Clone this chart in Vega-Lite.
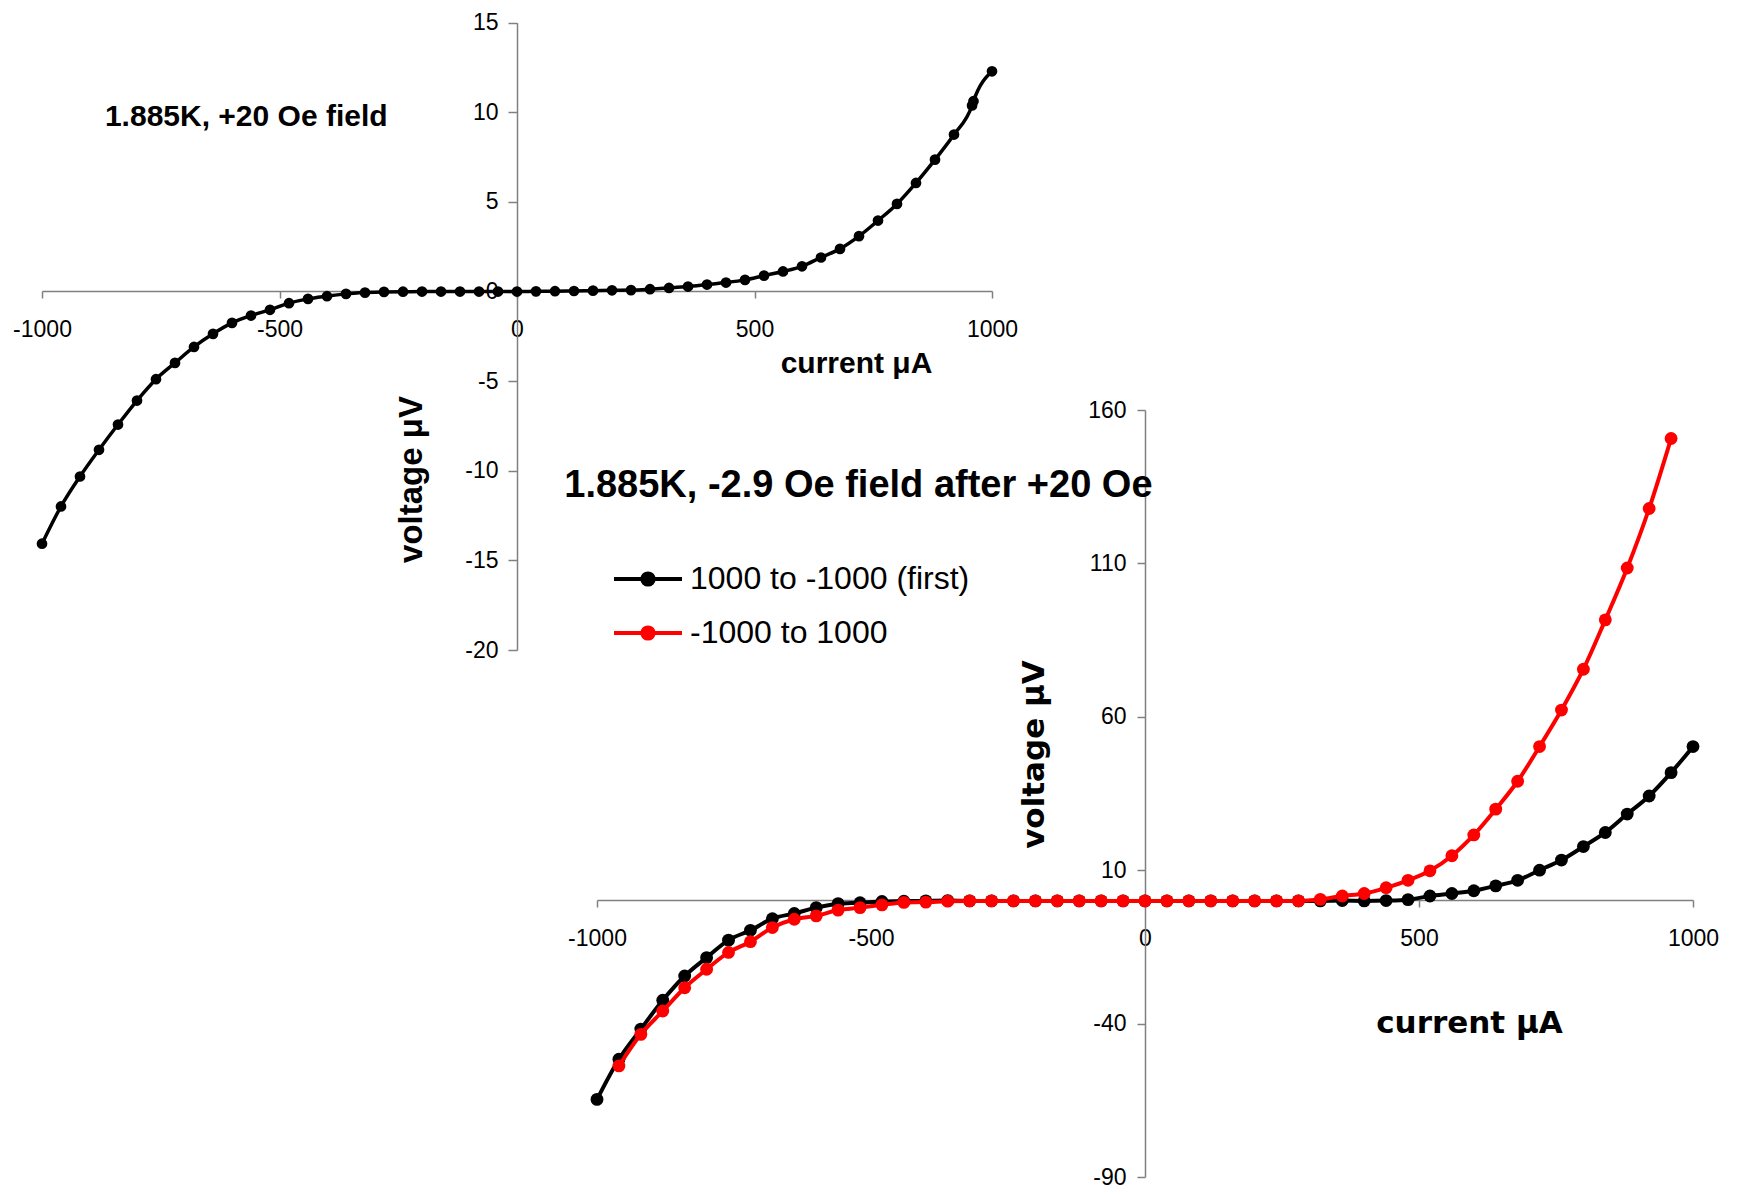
{
  "$schema": "https://vega.github.io/schema/vega-lite/v6.json",
  "width": 1740,
  "height": 1188,
  "autosize": "none",
  "padding": 0,
  "background": "white",
  "config": {
    "view": {"stroke": null},
    "axis": {
      "grid": false,
      "domainColor": "#808080",
      "domainWidth": 1.5,
      "tickColor": "#808080",
      "tickWidth": 1.5,
      "labelFont": "Liberation Sans",
      "labelFontSize": 23,
      "labelColor": "#000000",
      "labelFlush": false,
      "labelOverlap": false,
      "labelExpr": "'' + datum.value",
      "titleColor": "#000000",
      "titleFontWeight": "bold",
      "titleAlign": "center",
      "titleBaseline": "middle"
    }
  },
  "datasets": {
    "plus20": [
      {"current": -1000, "voltage": -14.07},
      {"current": -960, "voltage": -11.99},
      {"current": -920, "voltage": -10.32},
      {"current": -880, "voltage": -8.83},
      {"current": -840, "voltage": -7.42},
      {"current": -800, "voltage": -6.08},
      {"current": -760, "voltage": -4.89},
      {"current": -720, "voltage": -3.98},
      {"current": -680, "voltage": -3.09},
      {"current": -640, "voltage": -2.36},
      {"current": -600, "voltage": -1.75},
      {"current": -560, "voltage": -1.34},
      {"current": -520, "voltage": -1.02},
      {"current": -480, "voltage": -0.65},
      {"current": -440, "voltage": -0.41},
      {"current": -400, "voltage": -0.26},
      {"current": -360, "voltage": -0.13},
      {"current": -320, "voltage": -0.06},
      {"current": -280, "voltage": -0.02},
      {"current": -240, "voltage": -0.01},
      {"current": -200, "voltage": 0},
      {"current": -160, "voltage": 0},
      {"current": -120, "voltage": 0},
      {"current": -80, "voltage": 0},
      {"current": -40, "voltage": 0},
      {"current": 0, "voltage": 0},
      {"current": 40, "voltage": 0.01},
      {"current": 80, "voltage": 0.02},
      {"current": 120, "voltage": 0.03},
      {"current": 160, "voltage": 0.05},
      {"current": 200, "voltage": 0.07},
      {"current": 240, "voltage": 0.08},
      {"current": 280, "voltage": 0.13},
      {"current": 320, "voltage": 0.2},
      {"current": 360, "voltage": 0.28},
      {"current": 400, "voltage": 0.39},
      {"current": 440, "voltage": 0.5},
      {"current": 480, "voltage": 0.65},
      {"current": 520, "voltage": 0.89},
      {"current": 560, "voltage": 1.12},
      {"current": 600, "voltage": 1.41},
      {"current": 640, "voltage": 1.9},
      {"current": 680, "voltage": 2.38},
      {"current": 720, "voltage": 3.09},
      {"current": 760, "voltage": 3.96},
      {"current": 800, "voltage": 4.89},
      {"current": 840, "voltage": 6.06},
      {"current": 880, "voltage": 7.36},
      {"current": 920, "voltage": 8.76},
      {"current": 958, "voltage": 10.38},
      {"current": 961, "voltage": 10.62},
      {"current": 1000, "voltage": 12.29}
    ],
    "minus29": [
      {"series": "1000 to -1000 (first)", "current": -1000, "voltage": -64.7},
      {"series": "1000 to -1000 (first)", "current": -960, "voltage": -51.6},
      {"series": "1000 to -1000 (first)", "current": -920, "voltage": -41.8},
      {"series": "1000 to -1000 (first)", "current": -880, "voltage": -32.4},
      {"series": "1000 to -1000 (first)", "current": -840, "voltage": -24.5},
      {"series": "1000 to -1000 (first)", "current": -800, "voltage": -18.5},
      {"series": "1000 to -1000 (first)", "current": -760, "voltage": -12.8},
      {"series": "1000 to -1000 (first)", "current": -720, "voltage": -9.6},
      {"series": "1000 to -1000 (first)", "current": -680, "voltage": -5.8},
      {"series": "1000 to -1000 (first)", "current": -640, "voltage": -4.1},
      {"series": "1000 to -1000 (first)", "current": -600, "voltage": -2.2},
      {"series": "1000 to -1000 (first)", "current": -560, "voltage": -0.9},
      {"series": "1000 to -1000 (first)", "current": -520, "voltage": -0.6},
      {"series": "1000 to -1000 (first)", "current": -480, "voltage": -0.2},
      {"series": "1000 to -1000 (first)", "current": -440, "voltage": -0.1},
      {"series": "1000 to -1000 (first)", "current": -400, "voltage": 0},
      {"series": "1000 to -1000 (first)", "current": -360, "voltage": 0.1},
      {"series": "1000 to -1000 (first)", "current": -320, "voltage": 0},
      {"series": "1000 to -1000 (first)", "current": -280, "voltage": 0},
      {"series": "1000 to -1000 (first)", "current": -240, "voltage": 0},
      {"series": "1000 to -1000 (first)", "current": -200, "voltage": 0},
      {"series": "1000 to -1000 (first)", "current": -160, "voltage": 0},
      {"series": "1000 to -1000 (first)", "current": -120, "voltage": 0},
      {"series": "1000 to -1000 (first)", "current": -80, "voltage": 0},
      {"series": "1000 to -1000 (first)", "current": -40, "voltage": 0},
      {"series": "1000 to -1000 (first)", "current": 0, "voltage": 0},
      {"series": "1000 to -1000 (first)", "current": 40, "voltage": 0},
      {"series": "1000 to -1000 (first)", "current": 80, "voltage": 0},
      {"series": "1000 to -1000 (first)", "current": 120, "voltage": 0},
      {"series": "1000 to -1000 (first)", "current": 160, "voltage": 0},
      {"series": "1000 to -1000 (first)", "current": 200, "voltage": 0},
      {"series": "1000 to -1000 (first)", "current": 240, "voltage": 0},
      {"series": "1000 to -1000 (first)", "current": 280, "voltage": 0},
      {"series": "1000 to -1000 (first)", "current": 320, "voltage": 0},
      {"series": "1000 to -1000 (first)", "current": 360, "voltage": 0.1},
      {"series": "1000 to -1000 (first)", "current": 400, "voltage": 0},
      {"series": "1000 to -1000 (first)", "current": 440, "voltage": 0.1},
      {"series": "1000 to -1000 (first)", "current": 480, "voltage": 0.4},
      {"series": "1000 to -1000 (first)", "current": 520, "voltage": 1.6},
      {"series": "1000 to -1000 (first)", "current": 560, "voltage": 2.4},
      {"series": "1000 to -1000 (first)", "current": 600, "voltage": 3.3},
      {"series": "1000 to -1000 (first)", "current": 640, "voltage": 4.9},
      {"series": "1000 to -1000 (first)", "current": 680, "voltage": 6.7},
      {"series": "1000 to -1000 (first)", "current": 720, "voltage": 10.0},
      {"series": "1000 to -1000 (first)", "current": 760, "voltage": 13.3},
      {"series": "1000 to -1000 (first)", "current": 800, "voltage": 17.7},
      {"series": "1000 to -1000 (first)", "current": 840, "voltage": 22.3},
      {"series": "1000 to -1000 (first)", "current": 880, "voltage": 28.3},
      {"series": "1000 to -1000 (first)", "current": 920, "voltage": 34.2},
      {"series": "1000 to -1000 (first)", "current": 960, "voltage": 41.8},
      {"series": "1000 to -1000 (first)", "current": 1000, "voltage": 50.3},
      {"series": "-1000 to 1000", "current": -960, "voltage": -53.8},
      {"series": "-1000 to 1000", "current": -920, "voltage": -43.5},
      {"series": "-1000 to 1000", "current": -880, "voltage": -35.9},
      {"series": "-1000 to 1000", "current": -840, "voltage": -28.3},
      {"series": "-1000 to 1000", "current": -800, "voltage": -22.3},
      {"series": "-1000 to 1000", "current": -760, "voltage": -16.8},
      {"series": "-1000 to 1000", "current": -720, "voltage": -13.3},
      {"series": "-1000 to 1000", "current": -680, "voltage": -8.7},
      {"series": "-1000 to 1000", "current": -640, "voltage": -6.0},
      {"series": "-1000 to 1000", "current": -600, "voltage": -4.9},
      {"series": "-1000 to 1000", "current": -560, "voltage": -3.0},
      {"series": "-1000 to 1000", "current": -520, "voltage": -2.2},
      {"series": "-1000 to 1000", "current": -480, "voltage": -1.3},
      {"series": "-1000 to 1000", "current": -440, "voltage": -0.5},
      {"series": "-1000 to 1000", "current": -400, "voltage": -0.4},
      {"series": "-1000 to 1000", "current": -360, "voltage": -0.1},
      {"series": "-1000 to 1000", "current": -320, "voltage": 0},
      {"series": "-1000 to 1000", "current": -280, "voltage": 0},
      {"series": "-1000 to 1000", "current": -240, "voltage": 0},
      {"series": "-1000 to 1000", "current": -200, "voltage": 0},
      {"series": "-1000 to 1000", "current": -160, "voltage": 0},
      {"series": "-1000 to 1000", "current": -120, "voltage": 0},
      {"series": "-1000 to 1000", "current": -80, "voltage": 0},
      {"series": "-1000 to 1000", "current": -40, "voltage": 0},
      {"series": "-1000 to 1000", "current": 0, "voltage": 0},
      {"series": "-1000 to 1000", "current": 40, "voltage": 0},
      {"series": "-1000 to 1000", "current": 80, "voltage": 0},
      {"series": "-1000 to 1000", "current": 120, "voltage": 0},
      {"series": "-1000 to 1000", "current": 160, "voltage": 0},
      {"series": "-1000 to 1000", "current": 200, "voltage": 0},
      {"series": "-1000 to 1000", "current": 240, "voltage": 0},
      {"series": "-1000 to 1000", "current": 280, "voltage": 0},
      {"series": "-1000 to 1000", "current": 320, "voltage": 0.5},
      {"series": "-1000 to 1000", "current": 360, "voltage": 1.6},
      {"series": "-1000 to 1000", "current": 400, "voltage": 2.4},
      {"series": "-1000 to 1000", "current": 440, "voltage": 4.3},
      {"series": "-1000 to 1000", "current": 480, "voltage": 6.7},
      {"series": "-1000 to 1000", "current": 520, "voltage": 9.8},
      {"series": "-1000 to 1000", "current": 560, "voltage": 14.7},
      {"series": "-1000 to 1000", "current": 600, "voltage": 21.5},
      {"series": "-1000 to 1000", "current": 640, "voltage": 29.9},
      {"series": "-1000 to 1000", "current": 680, "voltage": 39.0},
      {"series": "-1000 to 1000", "current": 720, "voltage": 50.3},
      {"series": "-1000 to 1000", "current": 760, "voltage": 62.2},
      {"series": "-1000 to 1000", "current": 800, "voltage": 75.5},
      {"series": "-1000 to 1000", "current": 840, "voltage": 91.6},
      {"series": "-1000 to 1000", "current": 880, "voltage": 108.5},
      {"series": "-1000 to 1000", "current": 920, "voltage": 127.9},
      {"series": "-1000 to 1000", "current": 960, "voltage": 150.7}
    ],
    "captions": [
      {"panel": "plus20", "note": "1.885K, +20 Oe field"},
      {"panel": "minus29", "note": "1.885K, -2.9 Oe field after +20 Oe"}
    ]
  },
  "layer": [
    {
      "layer": [
        {
          "data": {"name": "plus20"},
          "mark": {
            "type": "line",
            "color": "#000000",
            "strokeWidth": 3.5,
            "interpolate": "monotone",
            "point": {"filled": true, "size": 115, "color": "#000000"}
          },
          "encoding": {
            "x": {
              "field": "current",
              "type": "quantitative",
              "scale": {"domain": [-1000, 1000], "range": [42, 992], "nice": false, "zero": false},
              "axis": {
                "orient": "bottom",
                "offset": -897,
                "values": [-1000, -500, 0, 500, 1000],
                "tickSize": 7,
                "labelPadding": 20,
                "title": "current μA",
                "titleFont": "Liberation Sans",
                "titleFontSize": 30,
                "titleX": 856,
                "titleY": 72
              }
            },
            "y": {
              "field": "voltage",
              "type": "quantitative",
              "scale": {"domain": [-20, 15], "range": [650, 22.7], "nice": false, "zero": false},
              "axis": {
                "orient": "left",
                "offset": -517,
                "values": [-20, -15, -10, -5, 0, 5, 10, 15],
                "tickSize": 9,
                "labelPadding": 10,
                "title": "voltage μV",
                "titleFont": "Liberation Sans",
                "titleFontSize": 33,
                "titleAngle": 270,
                "titleX": -106,
                "titleY": 479
              }
            }
          }
        },
        {
          "data": {"name": "captions"},
          "transform": [{"filter": "datum.panel === 'plus20'"}],
          "mark": {
            "type": "text",
            "font": "Liberation Sans",
            "fontWeight": "bold",
            "fontSize": 30,
            "align": "center",
            "baseline": "middle",
            "color": "#000000"
          },
          "encoding": {
            "x": {"datum": -570, "type": "quantitative"},
            "y": {"datum": 9.72, "type": "quantitative"},
            "text": {"field": "note"}
          }
        }
      ]
    },
    {
      "layer": [
        {
          "data": {"name": "minus29"},
          "transform": [{"filter": "datum.series === '1000 to -1000 (first)'"}],
          "mark": {
            "type": "line",
            "strokeWidth": 4,
            "interpolate": "monotone",
            "point": {"filled": true, "size": 165}
          },
          "encoding": {
            "x": {
              "field": "current",
              "type": "quantitative",
              "scale": {"domain": [-1000, 1000], "range": [597, 1693], "nice": false, "zero": false},
              "axis": {
                "orient": "bottom",
                "offset": -288,
                "values": [-1000, -500, 0, 500, 1000],
                "tickSize": 7,
                "labelPadding": 20,
                "title": "current μA",
                "titleFont": "DejaVu Sans",
                "titleFontSize": 31,
                "titleX": 1469,
                "titleY": 123
              }
            },
            "y": {
              "field": "voltage",
              "type": "quantitative",
              "scale": {"domain": [-90, 160], "range": [1177, 410], "nice": false, "zero": false},
              "axis": {
                "orient": "left",
                "offset": -1145,
                "values": [-90, -40, 10, 60, 110, 160],
                "tickSize": 8,
                "labelPadding": 11,
                "title": "voltage μV",
                "titleFont": "DejaVu Sans",
                "titleFontSize": 31,
                "titleAngle": 270,
                "titleX": -111,
                "titleY": 754
              }
            },
            "color": {
              "field": "series",
              "type": "nominal",
              "scale": {"domain": ["1000 to -1000 (first)", "-1000 to 1000"], "range": ["#000000", "#ff0000"]},
              "legend": {
                "orient": "none",
                "legendX": 629,
                "legendY": 560,
                "title": null,
                "padding": 0,
                "symbolType": "M-2,0H2M0.33,0A0.33,0.33,0,1,1,-0.33,0A0.33,0.33,0,1,1,0.33,0Z",
                "symbolSize": 1156,
                "symbolStrokeWidth": 4,
                "labelFont": "Liberation Sans",
                "labelFontSize": 32,
                "labelColor": "#000000",
                "labelOffset": 23,
                "labelLimit": 600,
                "rowPadding": 19,
                "encode": {
                  "symbols": {
                    "update": {
                      "fill": {"scale": "color", "field": "value"},
                      "stroke": {"scale": "color", "field": "value"},
                      "opacity": {"value": 1}
                    }
                  }
                }
              }
            }
          }
        },
        {
          "data": {"name": "minus29"},
          "transform": [{"filter": "datum.series === '-1000 to 1000'"}],
          "mark": {
            "type": "line",
            "strokeWidth": 4,
            "interpolate": "monotone",
            "point": {"filled": true, "size": 165}
          },
          "encoding": {
            "x": {"field": "current", "type": "quantitative"},
            "y": {"field": "voltage", "type": "quantitative"},
            "color": {"field": "series", "type": "nominal"}
          }
        },
        {
          "data": {"name": "captions"},
          "transform": [{"filter": "datum.panel === 'minus29'"}],
          "mark": {
            "type": "text",
            "font": "Liberation Sans",
            "fontWeight": "bold",
            "fontSize": 38,
            "align": "center",
            "baseline": "middle",
            "color": "#000000"
          },
          "encoding": {
            "x": {"datum": -523, "type": "quantitative"},
            "y": {"datum": 135.3, "type": "quantitative"},
            "text": {"field": "note"}
          }
        }
      ]
    }
  ],
  "resolve": {
    "scale": {"x": "independent", "y": "independent"},
    "axis": {"x": "independent", "y": "independent"}
  }
}
